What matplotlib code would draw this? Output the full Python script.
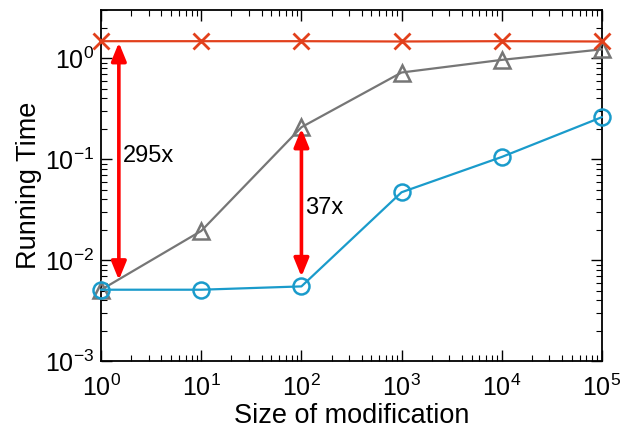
import matplotlib
matplotlib.use("Agg")
import matplotlib.pyplot as plt

plt.rcParams["font.family"] = ["Liberation Sans", "DejaVu Sans"]
plt.rcParams["mathtext.fontset"] = "custom"
plt.rcParams["mathtext.rm"] = "Liberation Sans"

sizes = [1, 10, 100, 1000, 10000, 100000]
red_times = [1.47, 1.47, 1.47, 1.46, 1.47, 1.46]
gray_times = [0.0051, 0.0195, 0.207, 0.72, 0.96, 1.22]
blue_times = [0.0051, 0.0051, 0.0055, 0.047, 0.105, 0.26]

speedup_labels = ["295x", "37x"]
arrow_x = [1.5, 100]
arrow_top = [1.47, 0.207]
arrow_bottom = [0.0051, 0.0055]
label_y = [0.108, 0.033]

fig = plt.figure(figsize=(6.21, 4.30), dpi=100)
ax = fig.add_axes([0.163, 0.160, 0.806, 0.817])

ax.plot(sizes, red_times, color="#e2401c", lw=1.6, marker="x", ms=11, mew=2,
        clip_on=False, zorder=4)
ax.plot(sizes, gray_times, color="#767676", lw=1.6, marker="^", ms=12, mew=1.8,
        mfc="none", clip_on=False, zorder=3)
ax.plot(sizes, blue_times, color="#1a9bcb", lw=1.6, marker="o", ms=11.5, mew=1.8,
        mfc="none", clip_on=False, zorder=3)

for x, top, bottom, ly, label in zip(arrow_x, arrow_top, arrow_bottom, label_y, speedup_labels):
    ax.annotate("", xy=(x, bottom), xytext=(x, top),
                arrowprops=dict(arrowstyle="<|-|>,head_length=1.1,head_width=0.45",
                                color="#ff0000", lw=2.6, shrinkA=1, shrinkB=7),
                zorder=5)
    ax.text(x * 1.1, ly, label, fontsize=17, ha="left", va="center")

ax.set_xscale("log")
ax.set_yscale("log")
ax.set_xlim(1, 1e5)
ax.set_ylim(1e-3, 3.0)
ax.set_xlabel("Size of modification", fontsize=19.5, labelpad=1)
ax.set_ylabel("Running Time", fontsize=19.5, labelpad=2)

ax.tick_params(which="both", direction="in", top=True, right=True, labelsize=18)
ax.tick_params(which="major", length=8, width=1)
ax.tick_params(which="minor", length=4, width=0.8)
ax.tick_params(axis="x", pad=10)
ax.tick_params(axis="y", pad=5)
for spine in ax.spines.values():
    spine.set_linewidth(1.3)

fig.savefig("out.png", dpi=100)
